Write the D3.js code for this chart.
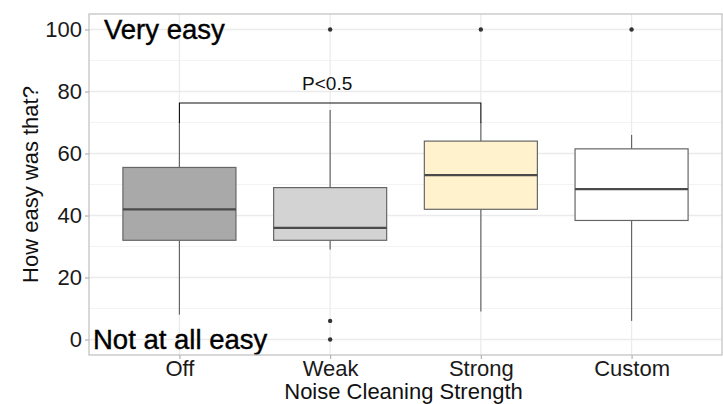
<!DOCTYPE html>
<html>
<head>
<meta charset="utf-8">
<script src="https://cdn.jsdelivr.net/npm/d3@7"></script>
<style>
  html, body { margin: 0; padding: 0; background: #fff; }
  svg { display: block; font-family: "Liberation Sans", Arial, sans-serif; }
</style>
</head>
<body>
<svg id="chart" width="723" height="404"></svg>
<script>
// Ease ratings by noise cleaning strength (five-number summaries + outliers)
const categories  = ["Off", "Weak", "Strong", "Custom"];
const whiskerLow  = [8, 29, 9, 6];
const q1          = [32, 32, 42, 38.4];
const median      = [42, 36, 53, 48.5];
const q3          = [55.5, 49, 64, 61.5];
const whiskerHigh = [70, 74, 70, 66];
const outliers    = [[], [100, 6, 0], [100], [100]];
const fills       = ["#a9a9a9", "#d3d3d3", "#fff2cc", "#ffffff"];

const yTicks      = [0, 20, 40, 60, 80, 100];
const yMinor      = [10, 30, 50, 70, 90];

// significance bracket between two groups
const bracketFrom = "Off", bracketTo = "Strong";
const bracketY = 76.3, bracketTipY = 69.8, bracketLabel = "P<0.5";

const W = 723, H = 404;
const margin = { left: 89, top: 14, right: 1, bottom: 49 };
const pw = W - margin.left - margin.right;
const ph = H - margin.top - margin.bottom;

const svg = d3.select("#chart");
const g = svg.append("g").attr("transform", `translate(${margin.left},${margin.top})`);

// discrete x scale with ggplot-style 0.6 expansion on each side
const x = d3.scalePoint().domain(categories).range([0, pw]).padding(0.6);
const step = x.step();
const boxW = step * 0.75;
const y = d3.scaleLinear().domain([-5, 105]).range([ph, 0]);

// grid
g.append("g").selectAll("line.minor").data(yMinor).join("line")
  .attr("x1", 0).attr("x2", pw)
  .attr("y1", d => y(d)).attr("y2", d => y(d))
  .attr("stroke", "#f3f3f3").attr("stroke-width", 1);
g.append("g").selectAll("line.major").data(yTicks).join("line")
  .attr("x1", 0).attr("x2", pw)
  .attr("y1", d => y(d)).attr("y2", d => y(d))
  .attr("stroke", "#ebebeb").attr("stroke-width", 1.3);
g.append("g").selectAll("line.vmajor").data(categories).join("line")
  .attr("x1", d => x(d)).attr("x2", d => x(d))
  .attr("y1", 0).attr("y2", ph)
  .attr("stroke", "#ebebeb").attr("stroke-width", 1.3);

// boxplots
const boxes = g.append("g").selectAll("g.box").data(categories).join("g");
boxes.append("line")
  .attr("x1", d => x(d)).attr("x2", d => x(d))
  .attr("y1", (d, i) => y(whiskerHigh[i])).attr("y2", (d, i) => y(q3[i]))
  .attr("stroke", "#666").attr("stroke-width", 1.2);
boxes.append("line")
  .attr("x1", d => x(d)).attr("x2", d => x(d))
  .attr("y1", (d, i) => y(q1[i])).attr("y2", (d, i) => y(whiskerLow[i]))
  .attr("stroke", "#666").attr("stroke-width", 1.2);
boxes.append("rect")
  .attr("x", d => x(d) - boxW / 2).attr("width", boxW)
  .attr("y", (d, i) => y(q3[i]))
  .attr("height", (d, i) => y(q1[i]) - y(q3[i]))
  .attr("fill", (d, i) => fills[i])
  .attr("stroke", "#666").attr("stroke-width", 1.2);
boxes.append("line")
  .attr("x1", d => x(d) - boxW / 2).attr("x2", d => x(d) + boxW / 2)
  .attr("y1", (d, i) => y(median[i])).attr("y2", (d, i) => y(median[i]))
  .attr("stroke", "#4a4a4a").attr("stroke-width", 2.2);
boxes.each(function (d, i) {
  d3.select(this).selectAll("circle").data(outliers[i]).join("circle")
    .attr("cx", x(d)).attr("cy", v => y(v)).attr("r", 2.2)
    .attr("fill", "#333");
});

// significance bracket
const bx1 = x(bracketFrom), bx2 = x(bracketTo);
g.append("path")
  .attr("d", `M${bx1},${y(bracketTipY)}V${y(bracketY)}H${bx2}V${y(bracketTipY)}`)
  .attr("fill", "none").attr("stroke", "#111").attr("stroke-width", 1.1);
g.append("text")
  .attr("x", (bx1 + bx2) / 2 - 3).attr("y", y(bracketY) - 13)
  .attr("text-anchor", "middle").attr("font-size", 19).attr("fill", "#111")
  .text(bracketLabel);

// scale annotations
g.append("text")
  .attr("x", 15).attr("y", y(100)).attr("dy", "0.36em")
  .attr("font-size", 27.5).attr("fill", "#000").attr("stroke", "#000").attr("stroke-width", 0.4)
  .text("Very easy");
g.append("text")
  .attr("x", 4).attr("y", y(0)).attr("dy", "0.36em")
  .attr("font-size", 27.5).attr("fill", "#000").attr("stroke", "#000").attr("stroke-width", 0.4)
  .text("Not at all easy");

// panel border
g.append("rect").attr("x", 0).attr("y", 0).attr("width", pw).attr("height", ph)
  .attr("fill", "none").attr("stroke", "#c4c4c4").attr("stroke-width", 1.3);

// axes
const yAxis = g.append("g").call(d3.axisLeft(y).tickValues(yTicks).tickSize(4).tickPadding(3));
const xAxis = g.append("g").attr("transform", `translate(0,${ph})`)
  .call(d3.axisBottom(x).tickSize(4).tickPadding(1));
[yAxis, xAxis].forEach(a => {
  a.select(".domain").remove();
  a.selectAll(".tick line").attr("stroke", "#b3b3b3").attr("stroke-width", 1.2);
  a.selectAll(".tick text").attr("fill", "#1a1a1a")
    .attr("font-family", "Liberation Sans, Arial, sans-serif");
});
yAxis.selectAll(".tick text").attr("font-size", 22);
xAxis.selectAll(".tick text").attr("font-size", 22);

// axis titles
svg.append("text")
  .attr("transform", `translate(38,${margin.top + ph / 2}) rotate(-90)`)
  .attr("text-anchor", "middle").attr("font-size", 22).attr("fill", "#111")
  .text("How easy was that?");
svg.append("text")
  .attr("x", margin.left + pw / 2 - 2).attr("y", 399)
  .attr("text-anchor", "middle").attr("font-size", 22).attr("fill", "#111")
  .text("Noise Cleaning Strength");
</script>
</body>
</html>
